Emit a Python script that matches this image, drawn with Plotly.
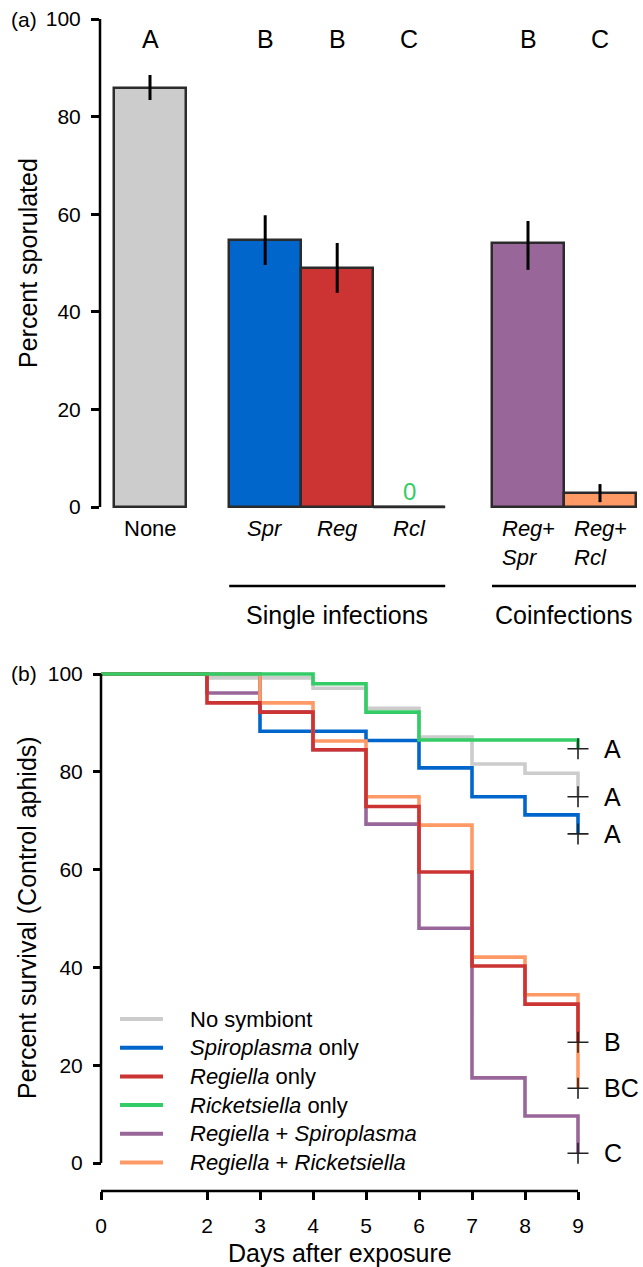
import plotly.graph_objects as go

# ---------------- data ----------------
# (a) sporulation after exposure to the fungus
bar_groups = ["none", "single", "single", "single", "co", "co"]
bar_labels = ["None", "<i>Spr</i>", "<i>Reg</i>", "<i>Rcl</i>",
              "<i>Reg</i>+<br><i>Spr</i>", "<i>Reg</i>+<br><i>Rcl</i>"]
bar_values = [85.9, 54.7, 49.0, 0.0, 54.2, 2.9]
bar_err_up = [2.6, 5.1, 5.1, 0.0, 4.4, 1.8]
bar_err_down = [2.5, 5.1, 5.1, 0.0, 5.6, 1.9]
bar_letters = ["A", "B", "B", "C", "B", "C"]
bar_colors = ["#cccccc", "#0066cc", "#cc3333", "#33cc66", "#996699", "#ff9966"]
group_names = {"single": "Single infections", "co": "Coinfections"}

# (b) survival of control aphids
days = [0, 2, 3, 4, 5, 6, 7, 8, 9]
day_ticks = [0, 2, 3, 4, 5, 6, 7, 8, 9]
series_names = ["No symbiont", "<i>Spiroplasma</i> only", "<i>Regiella</i> only",
                "<i>Ricketsiella</i> only", "<i>Regiella</i> + <i>Spiroplasma</i>",
                "<i>Regiella</i> + <i>Ricketsiella</i>"]
survival = [
    [100, 99.2, 99.2, 97.1, 93.0, 87.1, 81.6, 79.7, 74.9],   # no symbiont
    [100, 100, 88.3, 88.3, 86.4, 80.8, 74.9, 71.2, 67.3],    # Spiroplasma
    [100, 94.1, 92.2, 84.5, 72.9, 59.5, 40.3, 32.5, 24.7],   # Regiella
    [100, 100, 100, 98.0, 92.2, 86.5, 86.5, 86.5, 84.7],     # Ricketsiella
    [100, 96.1, 92.2, 84.5, 69.3, 48.0, 17.4, 9.6, 2.0],     # Regiella + Spiroplasma
    [100, 100, 94.1, 86.3, 74.9, 69.1, 42.1, 34.4, 15.3],    # Regiella + Ricketsiella
]
survival_letters = ["A", "A", "B", "A", "C", "BC"]
series_colors = ["#cccccc", "#0066cc", "#cc3333", "#33cc66", "#996699", "#ff9966"]
draw_order = [0, 1, 4, 5, 2, 3]

# ---------------- geometry ----------------
W, H = 643, 1267
FONT = "Liberation Sans, Arial, sans-serif"
def py(p):  # pixel row -> paper fraction
    return 1 - p / H
def px(p):  # pixel column -> paper fraction
    return p / W

# bar positions: unit-width bars, wider gaps between groups
group_gap = 0.6
positions = []
cur = -1.0
prev = None
for g in bar_groups:
    cur += 1.0
    if prev is not None and g != prev:
        cur += group_gap if g == "single" else 0.65
    positions.append(cur)
    prev = g

BAR_UNIT = 72.0           # px per bar width
X0_PIX = 150.0            # pixel of first bar centre
A_LEFT = 100.0            # top axis pixel
A_Y0, A_Y100 = 507.0, 19.0
a_scale = (A_Y0 - A_Y100) / 100
a_ymin = -2.0

B_X0, B_X9 = 101.0, 578.0
B_Y0, B_Y100 = 1163.0, 674.0
b_xs = (B_X9 - B_X0) / 9
b_ys = (B_Y0 - B_Y100) / 100
b_xmin, b_xmax = -0.2, 9.4
b_ymin, b_ymax = -2.0, 102.0
B_XAXIS_PIX = 1191.0

fig = go.Figure()

# ---------------- (a) bars ----------------
fig.add_trace(go.Bar(
    x=positions, y=bar_values, width=1.0,
    marker=dict(color=bar_colors, line=dict(color="#2b2b2b", width=2.5)),
    error_y=dict(type="data", symmetric=False, array=bar_err_up,
                 arrayminus=bar_err_down, width=0, thickness=3, color="black"),
    xaxis="x", yaxis="y", showlegend=False, hoverinfo="skip",
))

shapes = []
annotations = []

def note(**kw):
    base = dict(showarrow=False, xanchor="center", yanchor="middle")
    base.update(kw)
    annotations.append(base)

# zero-height bars are drawn as their outline at the baseline, with the value shown
for pos, v, col in zip(positions, bar_values, bar_colors):
    if v == 0:
        shapes.append(dict(type="line", xref="x", yref="y", x0=pos - 0.5, x1=pos + 0.5,
                           y0=v, y1=v, line=dict(color="#2b2b2b", width=2.5)))
        note(xref="x", yref="y", x=pos, y=v, yanchor="bottom", text=f"{v:g}",
             font=dict(family=FONT, size=24, color=col))

# significance letters and category labels
for pos, letter, lab in zip(positions, bar_letters, bar_labels):
    note(xref="x", yref="y", x=pos, y=96, text=letter,
         font=dict(family=FONT, size=25, color="black"))
    note(xref="x", yref="paper", x=pos, y=py(514), yanchor="top", text=lab, align="left",
         font=dict(family=FONT, size=22, color="black"))

# group brackets
for gkey, gname in group_names.items():
    gpos = [p for p, g in zip(positions, bar_groups) if g == gkey]
    shapes.append(dict(type="line", xref="x", yref="paper", x0=min(gpos) - 0.5,
                       x1=max(gpos) + 0.5, y0=py(586), y1=py(586),
                       line=dict(color="black", width=2.5)))
    note(xref="x", yref="paper", x=(min(gpos) + max(gpos)) / 2, y=py(615), text=gname,
         font=dict(family=FONT, size=25, color="black"))

# top y axis line
shapes.append(dict(type="line", xref="paper", yref="y", x0=px(A_LEFT), x1=px(A_LEFT),
                   y0=0, y1=100, line=dict(color="black", width=2.5)))

# ---------------- (b) survival curves ----------------
for i in draw_order:
    fig.add_trace(go.Scatter(
        x=days, y=survival[i], mode="lines",
        line=dict(color=series_colors[i], width=3.6, shape="hv"),
        xaxis="x2", yaxis="y2", showlegend=False, hoverinfo="skip",
    ))
fig.add_trace(go.Scatter(
    x=[days[-1]] * len(survival), y=[s[-1] for s in survival], mode="markers",
    marker=dict(symbol="cross-thin", size=15, line=dict(color="#222222", width=1.6)),
    xaxis="x2", yaxis="y2", showlegend=False, hoverinfo="skip", cliponaxis=False,
))
for s, letter in zip(survival, survival_letters):
    note(xref="x2", yref="y2", x=days[-1], y=s[-1], xanchor="left", xshift=24, text=letter,
         font=dict(family=FONT, size=25, color="black"))

# axis lines for panel (b)
shapes.append(dict(type="line", xref="paper", yref="y2", x0=px(B_X0), x1=px(B_X0),
                   y0=0, y1=100, line=dict(color="black", width=2.5)))
shapes.append(dict(type="line", xref="x2", yref="paper", x0=0, x1=9,
                   y0=py(B_XAXIS_PIX), y1=py(B_XAXIS_PIX), line=dict(color="black", width=2.5)))

# legend
leg_rows = [1019, 1047.7, 1076.4, 1105.1, 1133.8, 1162.5]
for name, col, row in zip(series_names, series_colors, leg_rows):
    shapes.append(dict(type="line", xref="paper", yref="paper", x0=px(120), x1=px(163),
                       y0=py(row), y1=py(row), line=dict(color=col, width=4)))
    note(xref="paper", yref="paper", x=px(188), y=py(row), xanchor="left", text=name,
         font=dict(family=FONT, size=22, color="black"))

# panel tags and axis titles
note(xref="paper", yref="paper", x=px(9), y=py(19), xanchor="left", text="(a)",
     font=dict(family=FONT, size=21, color="black"))
note(xref="paper", yref="paper", x=px(9), y=py(673), xanchor="left", text="(b)",
     font=dict(family=FONT, size=21, color="black"))
note(xref="paper", yref="paper", x=px(28), y=py(263), text="Percent sporulated",
     textangle=-90, font=dict(family=FONT, size=25, color="black"))
note(xref="paper", yref="paper", x=px(27), y=py(918), text="Percent survival (Control aphids)",
     textangle=-90, font=dict(family=FONT, size=25, color="black"))
note(xref="paper", yref="paper", x=px((B_X0 + B_X9) / 2), y=py(1253),
     text="Days after exposure", font=dict(family=FONT, size=25, color="black"))

tick_style = dict(ticks="outside", ticklen=8, tickwidth=2.5, tickcolor="black",
                  showline=False, showgrid=False, zeroline=False, automargin=False,
                  tickfont=dict(family=FONT, size=21, color="black"))

fig.update_layout(
    template="none",
    width=W, height=H, margin=dict(l=0, r=0, t=0, b=0, autoexpand=False),
    paper_bgcolor="white", plot_bgcolor="white",
    showlegend=False, bargap=0,
    xaxis=dict(domain=[px(A_LEFT), 1],
               range=[-(X0_PIX - A_LEFT) / BAR_UNIT, (W - X0_PIX) / BAR_UNIT],
               visible=False, anchor="y", automargin=False),
    yaxis=dict(domain=[py(A_Y0 - a_ymin * a_scale), py(A_Y100)], range=[a_ymin, 100],
               tickvals=[0, 20, 40, 60, 80, 100], anchor="x", ticklabelstandoff=6, **tick_style),
    xaxis2=dict(domain=[px(B_X0 + b_xmin * b_xs), px(B_X0 + b_xmax * b_xs)],
                range=[b_xmin, b_xmax], tickvals=day_ticks, anchor="free",
                position=py(B_XAXIS_PIX), ticklabelstandoff=8, **tick_style),
    yaxis2=dict(domain=[py(B_Y0 - b_ymin * b_ys), py(B_Y100 - (b_ymax - 100) * b_ys)],
                range=[b_ymin, b_ymax], tickvals=[0, 20, 40, 60, 80, 100], anchor="free",
                position=px(B_X0), ticklabelstandoff=6, **tick_style),
    shapes=shapes, annotations=annotations,
)

fig.write_html("out.html")
